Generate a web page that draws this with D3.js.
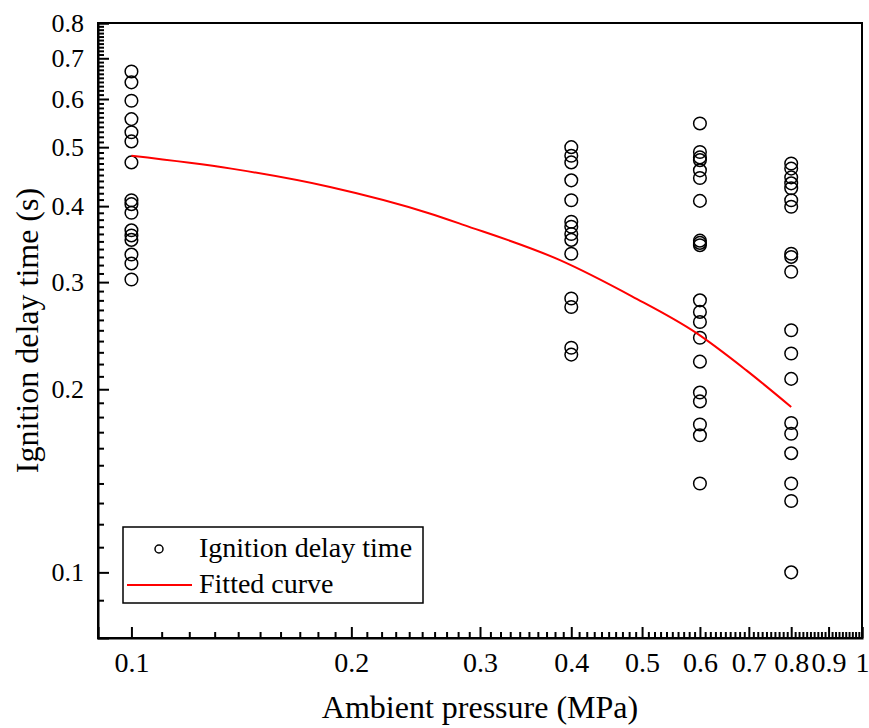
<!DOCTYPE html>
<html>
<head>
<meta charset="utf-8">
<script src="https://cdn.jsdelivr.net/npm/d3@7"></script>
<style>
  body { margin: 0; background: #fff; }
  svg text { font-family: "Times New Roman", "Liberation Serif", serif; fill: #000; }
</style>
</head>
<body>
<div id="chart"></div>
<script>
// measured ignition delay times (s) at each ambient pressure (MPa)
var pressures = [0.1, 0.4, 0.6, 0.8];
var delay01 = [0.666, 0.639, 0.596, 0.556, 0.529, 0.511, 0.472, 0.409, 0.403, 0.390, 0.365, 0.358, 0.352, 0.333, 0.322, 0.303];
var delay04 = [0.500, 0.484, 0.472, 0.441, 0.409, 0.377, 0.370, 0.360, 0.352, 0.334, 0.282, 0.273, 0.234, 0.228];
var delay06 = [0.547, 0.491, 0.481, 0.476, 0.458, 0.445, 0.408, 0.351, 0.348, 0.345, 0.280, 0.268, 0.258, 0.243, 0.222, 0.1975, 0.191, 0.175, 0.168, 0.140];
var delay08 = [0.470, 0.461, 0.446, 0.436, 0.428, 0.409, 0.399, 0.334, 0.330, 0.312, 0.250, 0.229, 0.208, 0.176, 0.169, 0.157, 0.140, 0.131, 0.100];

// fitted curve
var fitPressure = [0.1, 0.137, 0.187, 0.256, 0.284, 0.386, 0.485, 0.593, 0.694, 0.8];
var fitDelay = [0.484, 0.461, 0.430, 0.389, 0.373, 0.326, 0.284, 0.2475, 0.215, 0.187];

// tick labels
var xMajor = [0.1, 0.2, 0.3, 0.4, 0.5, 0.6, 0.7, 0.8, 0.9, 1];
var xLabels = ['0.1', '0.2', '0.3', '0.4', '0.5', '0.6', '0.7', '0.8', '0.9', '1'];
var yMajor = [0.1, 0.2, 0.3, 0.4, 0.5, 0.6, 0.7, 0.8];
var yLabels = ['0.1', '0.2', '0.3', '0.4', '0.5', '0.6', '0.7', '0.8'];

var width = 869,
  height = 728,
  plotLeft = 98,
  plotTop = 23,
  plotRight = 862,
  plotBottom = 638;

var series = [delay01, delay04, delay06, delay08];
var points = [];
series.forEach(function (vals, i) {
  vals.forEach(function (v) { points.push({ p: pressures[i], t: v }); });
});

var x = d3.scaleLog().domain([0.09, 1]).range([plotLeft, plotRight]);
var y = d3.scaleLog().domain([0.078, 0.8]).range([plotBottom, plotTop]);

// minor ticks every 0.01
function isMajor(v, majors) {
  return majors.some(function (m) { return Math.abs(m - v) < 1e-6; });
}
var xMinor = d3.range(11, 100).map(function (i) { return i / 100; })
  .filter(function (v) { return !isMajor(v, xMajor); });
var yMinor = d3.range(9, 80).map(function (i) { return i / 100; })
  .filter(function (v) { return !isMajor(v, yMajor); });

var svg = d3.select('#chart').append('svg')
  .attr('width', width)
  .attr('height', height);

// frame
svg.append('rect')
  .attr('x', plotLeft)
  .attr('y', plotTop)
  .attr('width', plotRight - plotLeft)
  .attr('height', plotBottom - plotTop)
  .attr('fill', 'none')
  .attr('stroke', '#000')
  .attr('stroke-width', 2);

// x axis
var xAxis = svg.append('g')
  .attr('transform', 'translate(0,' + plotBottom + ')')
  .call(d3.axisBottom(x)
    .tickValues(xMajor)
    .tickFormat(function (d, i) { return xLabels[i]; })
    .tickSize(-11)
    .tickPadding(14));
xAxis.selectAll('text').style('font-size', '28px');

svg.append('g')
  .attr('transform', 'translate(0,' + plotBottom + ')')
  .call(d3.axisBottom(x).tickValues(xMinor).tickFormat('').tickSize(-6))
  .select('.domain').remove();

// y axis
var yAxis = svg.append('g')
  .attr('transform', 'translate(' + plotLeft + ',0)')
  .call(d3.axisLeft(y)
    .tickValues(yMajor)
    .tickFormat(function (d, i) { return yLabels[i]; })
    .tickSize(-11)
    .tickPadding(14));
yAxis.selectAll('text').style('font-size', '26px');

svg.append('g')
  .attr('transform', 'translate(' + plotLeft + ',0)')
  .call(d3.axisLeft(y).tickValues(yMinor).tickFormat('').tickSize(-6))
  .select('.domain').remove();

svg.selectAll('.domain').attr('stroke-width', 2);
svg.selectAll('.tick line').attr('stroke-width', 2);

// axis titles
svg.append('text')
  .attr('x', (plotLeft + plotRight) / 2)
  .attr('y', 718)
  .attr('text-anchor', 'middle')
  .style('font-size', '32px')
  .text('Ambient pressure (MPa)');

svg.append('text')
  .attr('transform', 'translate(38,' + (plotTop + plotBottom) / 2 + ') rotate(-90)')
  .attr('text-anchor', 'middle')
  .style('font-size', '32px')
  .text('Ignition delay time (s)');

// data
svg.append('g').selectAll('circle')
    .data(points)
  .enter().append('circle')
    .attr('cx', function (d) { return x(d.p); })
    .attr('cy', function (d) { return y(d.t); })
    .attr('r', 6.3)
    .attr('fill', 'none')
    .attr('stroke', '#000')
    .attr('stroke-width', 1.5);

var line = d3.line()
  .x(function (d, i) { return x(fitPressure[i]); })
  .y(function (d) { return y(d); })
  .curve(d3.curveMonotoneX);

svg.append('path')
  .attr('d', line(fitDelay))
  .attr('fill', 'none')
  .attr('stroke', '#ff0000')
  .attr('stroke-width', 2);

// legend
var legend = svg.append('g');
legend.append('rect')
  .attr('x', 123)
  .attr('y', 527)
  .attr('width', 300)
  .attr('height', 76)
  .attr('fill', '#fff')
  .attr('stroke', '#000')
  .attr('stroke-width', 1.5);
legend.append('circle')
  .attr('cx', 159)
  .attr('cy', 549)
  .attr('r', 4)
  .attr('fill', 'none')
  .attr('stroke', '#000')
  .attr('stroke-width', 1.5);
legend.append('line')
  .attr('x1', 127)
  .attr('x2', 192)
  .attr('y1', 585)
  .attr('y2', 585)
  .attr('stroke', '#ff0000')
  .attr('stroke-width', 2);
legend.append('text')
  .attr('x', 199)
  .attr('y', 557)
  .style('font-size', '28px')
  .text('Ignition delay time');
legend.append('text')
  .attr('x', 199)
  .attr('y', 593)
  .style('font-size', '28px')
  .text('Fitted curve');
</script>
</body>
</html>
